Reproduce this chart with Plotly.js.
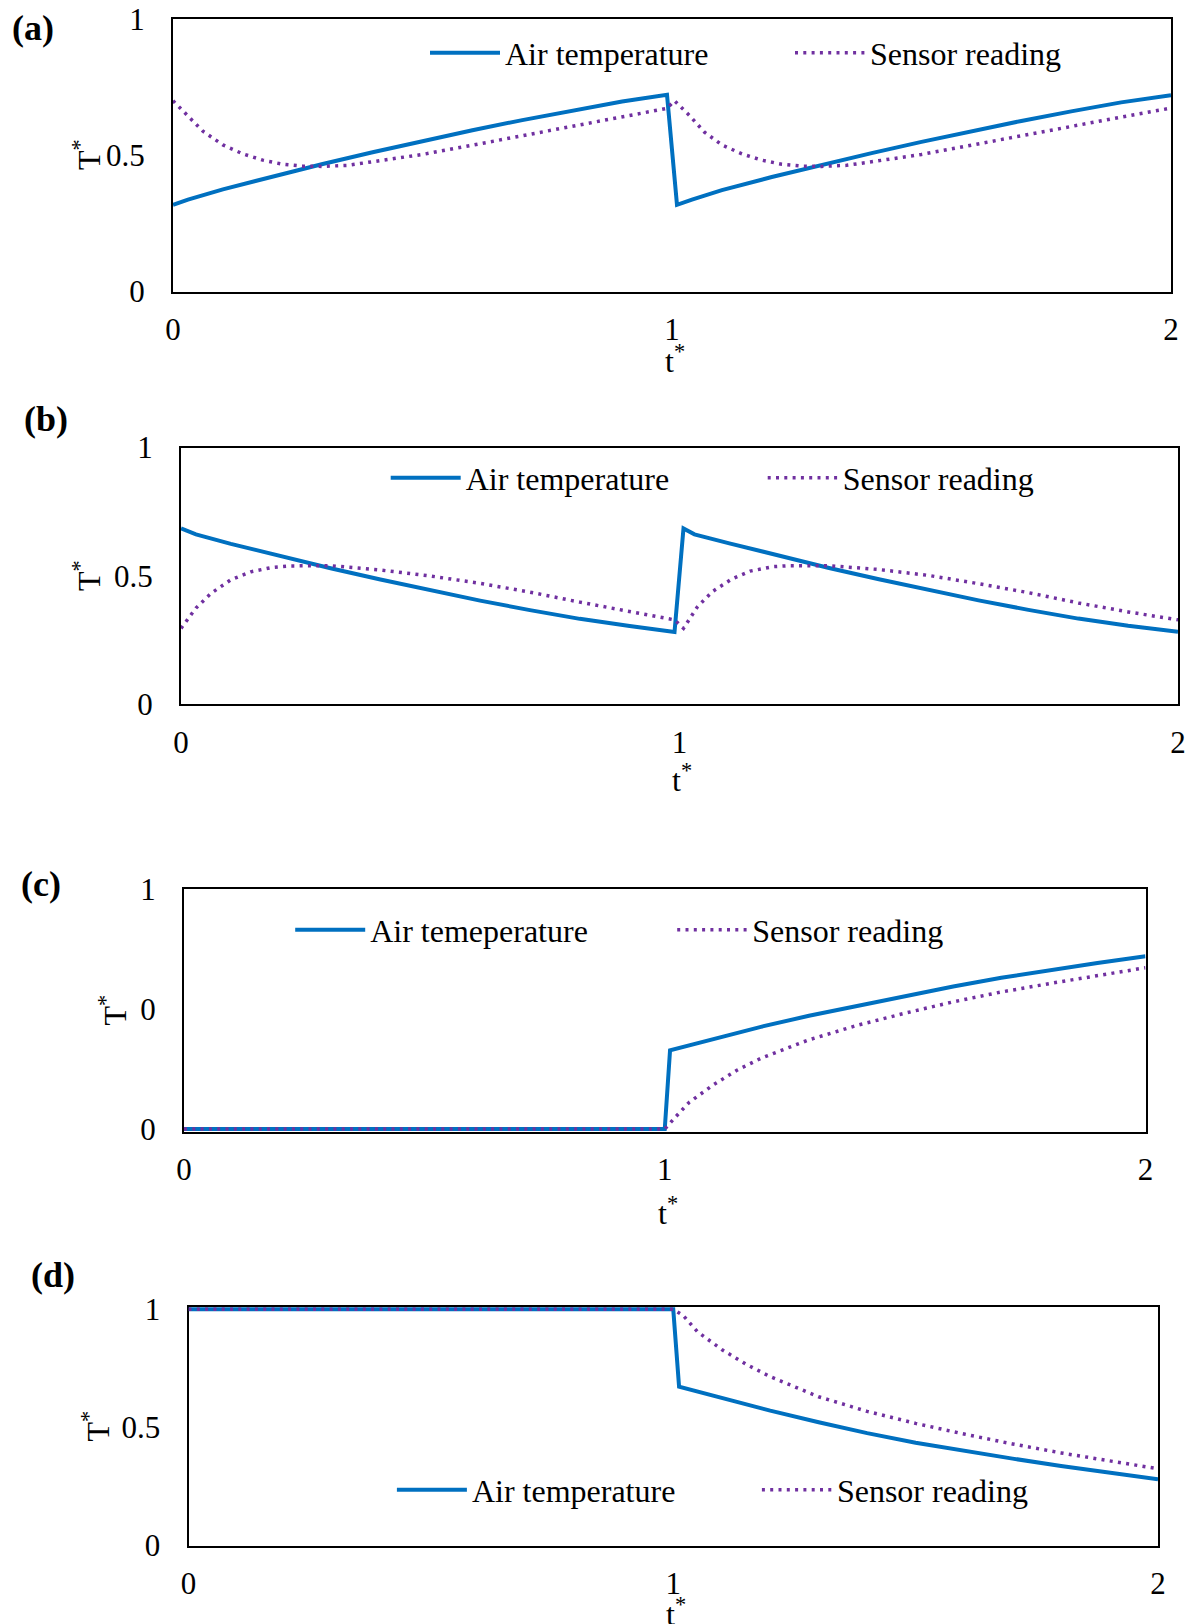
<!DOCTYPE html>
<html>
<head>
<meta charset="utf-8">
<script src="https://cdn.plot.ly/plotly-3.0.1.min.js"></script>
<style>
html,body{margin:0;padding:0;background:#fff;}
#chart{width:1186px;height:1624px;}
</style>
</head>
<body>
<div id="chart"></div>
<script>
// ---------------- DATA ----------------
const seriesNames = ["Air temperature", "Sensor reading"];
const seriesNamesC = ["Air temeperature", "Sensor reading"];
const panelLabels = ["(a)", "(b)", "(c)", "(d)"];
const xTitle = "t<sup>*</sup>";
const yTitle = "T<sup>*</sup>";
const xTickVals = [0, 1, 2];
const xTickText = ["0", "1", "2"];
const yTickVals = [0, 0.5, 1];
const yTickText = ["0", "0.5", "1"];
const yTickTextC = ["0", "0", "1"];

// Panel (a)
const tA_air = [0, 0.03, 0.1, 0.2, 0.3, 0.4, 0.5, 0.6, 0.7, 0.8, 0.9, 0.99,
                1.01, 1.04, 1.1, 1.2, 1.3, 1.4, 1.5, 1.6, 1.7, 1.8, 1.9, 2.0];
const vA_air = [0.318, 0.337, 0.375, 0.423, 0.468, 0.511, 0.552, 0.592, 0.629, 0.664, 0.697, 0.722,
                0.318, 0.337, 0.372, 0.420, 0.465, 0.508, 0.549, 0.589, 0.626, 0.661, 0.694, 0.720];
const tA_sen = [0, 0.03, 0.06, 0.1, 0.14, 0.18, 0.22, 0.26, 0.3, 0.35, 0.4, 0.5, 0.6, 0.7, 0.8, 0.9, 0.99,
                1.005, 1.035, 1.065, 1.1, 1.14, 1.18, 1.22, 1.26, 1.3, 1.35, 1.4, 1.5, 1.6, 1.7, 1.8, 1.9, 2.0];
const vA_sen = [0.700, 0.646, 0.588, 0.538, 0.505, 0.482, 0.467, 0.460, 0.459, 0.463, 0.476, 0.503, 0.537, 0.572, 0.608, 0.640, 0.672,
                0.700, 0.646, 0.585, 0.538, 0.505, 0.482, 0.467, 0.460, 0.459, 0.463, 0.476, 0.503, 0.537, 0.572, 0.608, 0.640, 0.673];

// Panel (b)
const tB_air = [0, 0.03, 0.1, 0.2, 0.3, 0.4, 0.5, 0.6, 0.7, 0.8, 0.9, 0.99,
                1.008, 1.03, 1.1, 1.2, 1.3, 1.4, 1.5, 1.6, 1.7, 1.8, 1.9, 2.0];
const vB_air = [0.685, 0.662, 0.625, 0.577, 0.530, 0.486, 0.444, 0.404, 0.367, 0.333, 0.305, 0.282,
                0.685, 0.662, 0.627, 0.578, 0.531, 0.487, 0.445, 0.405, 0.368, 0.334, 0.306, 0.283];
const tB_sen = [0, 0.03, 0.06, 0.1, 0.14, 0.18, 0.22, 0.26, 0.3, 0.4, 0.5, 0.6, 0.7, 0.8, 0.9, 0.99,
                1.008, 1.036, 1.066, 1.104, 1.142, 1.187, 1.22, 1.262, 1.3, 1.4, 1.5, 1.6, 1.7, 1.8, 1.9, 2.0];
const vB_sen = [0.296, 0.375, 0.432, 0.485, 0.516, 0.532, 0.539, 0.541, 0.540, 0.523, 0.500, 0.471, 0.437, 0.398, 0.362, 0.329,
                0.296, 0.380, 0.439, 0.487, 0.519, 0.536, 0.540, 0.541, 0.540, 0.525, 0.502, 0.470, 0.435, 0.395, 0.360, 0.329];

// Panel (c)
const tC_air = [0, 1.0, 1.011, 1.1, 1.2, 1.3, 1.4, 1.5, 1.6, 1.7, 1.8, 1.9, 2.0];
const vC_air = [0, 0, 0.328, 0.375, 0.426, 0.472, 0.514, 0.555, 0.594, 0.630, 0.662, 0.692, 0.720];
const tC_sen = [0, 1.0, 1.02, 1.05, 1.1, 1.15, 1.2, 1.3, 1.4, 1.5, 1.6, 1.7, 1.8, 1.9, 2.0];
const vC_sen = [0, 0, 0.045, 0.110, 0.183, 0.245, 0.295, 0.372, 0.432, 0.483, 0.530, 0.571, 0.606, 0.640, 0.672];

// Panel (d)
const tD_air = [0, 1.0, 1.012, 1.1, 1.2, 1.3, 1.4, 1.5, 1.6, 1.7, 1.8, 1.9, 2.0];
const vD_air = [1, 1, 0.673, 0.625, 0.571, 0.522, 0.476, 0.435, 0.400, 0.368, 0.337, 0.308, 0.280];
const tD_sen = [0, 1.0, 1.02, 1.05, 1.1, 1.15, 1.2, 1.3, 1.4, 1.5, 1.6, 1.7, 1.8, 1.9, 2.0];
const vD_sen = [1, 1, 0.975, 0.905, 0.830, 0.768, 0.715, 0.630, 0.568, 0.517, 0.472, 0.430, 0.392, 0.357, 0.325];

// ---------------- STYLE / LAYOUT ----------------
const W = 1186, H = 1624;
const FONT = "Liberation Serif, Times New Roman, serif";
const BLUE = "#0070C0", PURPLE = "#7030A0";
const dx = (l, r) => [l / W, r / W];
const dy = (t, b) => [1 - b / H, 1 - t / H];

function airTrace(x, y, name, ax, leg) {
  return {x, y, name, type: "scatter", mode: "lines", xaxis: "x" + ax, yaxis: "y" + ax,
          legend: leg, line: {color: BLUE, width: 4}, hoverinfo: "skip"};
}
function senTrace(x, y, name, ax, leg) {
  return {x, y, name, type: "scatter", mode: "lines", xaxis: "x" + ax, yaxis: "y" + ax,
          legend: leg, line: {color: PURPLE, width: 3.5, dash: "3px,5.3px"}, hoverinfo: "skip"};
}

const traces = [
  airTrace(tA_air, vA_air, seriesNames[0], "", "legend"),
  senTrace(tA_sen, vA_sen, seriesNames[1], "", "legend"),
  airTrace(tB_air, vB_air, seriesNames[0], "2", "legend2"),
  senTrace(tB_sen, vB_sen, seriesNames[1], "2", "legend2"),
  airTrace(tC_air, vC_air, seriesNamesC[0], "3", "legend3"),
  senTrace(tC_sen, vC_sen, seriesNamesC[1], "3", "legend3"),
  airTrace(tD_air, vD_air, seriesNames[0], "4", "legend4"),
  senTrace(tD_sen, vD_sen, seriesNames[1], "4", "legend4"),
];

const tickFont = {family: FONT, size: 31, color: "#000"};
const titleFont = {family: FONT, size: 32, color: "#000"};

function xAxis(dom, anchor) {
  return {domain: dom, anchor, range: [0, 2], tickvals: xTickVals, ticktext: xTickText,
          showgrid: false, zeroline: false, showline: true, mirror: true, linecolor: "#000", linewidth: 2,
          ticks: "", ticklabelstandoff: 9, tickfont: tickFont, layer: "below traces", fixedrange: true};
}
function yAxis(dom, anchor, range, ticktext) {
  return {domain: dom, anchor, range, tickvals: yTickVals, ticktext,
          showgrid: false, zeroline: false, showline: true, mirror: true, linecolor: "#000", linewidth: 2,
          ticks: "", ticklabelstandoff: 20, tickfont: tickFont, layer: "below traces", fixedrange: true};
}
function legendAt(xpx, ypx, entryW) {
  return {x: xpx / W, y: 1 - ypx / H, xanchor: "left", yanchor: "middle", orientation: "h",
          font: {family: FONT, size: 32, color: "#000"}, bgcolor: "rgba(0,0,0,0)", borderwidth: 0,
          itemwidth: 70, entrywidth: entryW, entrywidthmode: "pixels", traceorder: "normal"};
}

// Axis-title and panel-label text placement (pixel centres)
const panelLabelPos = [[32.5, 28], [46, 419.5], [41, 884], [52.5, 1274.5]];
const xTitlePos = [[675, 359], [682, 778], [667.5, 1211], [676, 1612]];
const yTitlePos = [[87, 155], [87, 576], [112.5, 1010], [95.5, 1426]];

const annotations = [];
panelLabels.forEach((lab, i) => annotations.push({
  text: "<b>" + lab + "</b>", x: panelLabelPos[i][0] / W, y: 1 - panelLabelPos[i][1] / H,
  font: {family: FONT, size: 36, color: "#000"}}));
xTitlePos.forEach(p => annotations.push({
  text: xTitle, x: p[0] / W, y: 1 - p[1] / H, font: titleFont}));
yTitlePos.forEach(p => annotations.push({
  text: yTitle, x: p[0] / W, y: 1 - p[1] / H, textangle: -90, font: titleFont}));
annotations.forEach(a => Object.assign(a, {xref: "paper", yref: "paper", xanchor: "center",
                                           yanchor: "middle", showarrow: false}));

const layout = {
  width: W, height: H, margin: {l: 0, r: 0, t: 0, b: 0},
  paper_bgcolor: "#fff", plot_bgcolor: "#fff", showlegend: true,
  font: {family: FONT, color: "#000"},
  xaxis:  xAxis(dx(173, 1171), "y"),
  yaxis:  yAxis(dy(19, 291.5), "x", [0, 1], yTickText),
  xaxis2: xAxis(dx(181, 1178), "y2"),
  yaxis2: yAxis(dy(447.5, 704.4), "x2", [0, 1], yTickText),
  xaxis3: xAxis(dx(184, 1145.5), "y3"),
  yaxis3: yAxis(dy(889, 1131.5), "x3", [-0.01, 1], yTickTextC),
  xaxis4: xAxis(dx(188.5, 1158), "y4"),
  yaxis4: yAxis(dy(1307, 1545.5), "x4", [0, 1.01], yTickText),
  legend:  legendAt(425, 53, 280),
  legend2: legendAt(385.7, 478, 292),
  legend3: legendAt(290.2, 930, 297),
  legend4: legendAt(391.9, 1490, 280),
  annotations
};

Plotly.newPlot("chart", traces, layout, {staticPlot: true, displayModeBar: false});
</script>
</body>
</html>
